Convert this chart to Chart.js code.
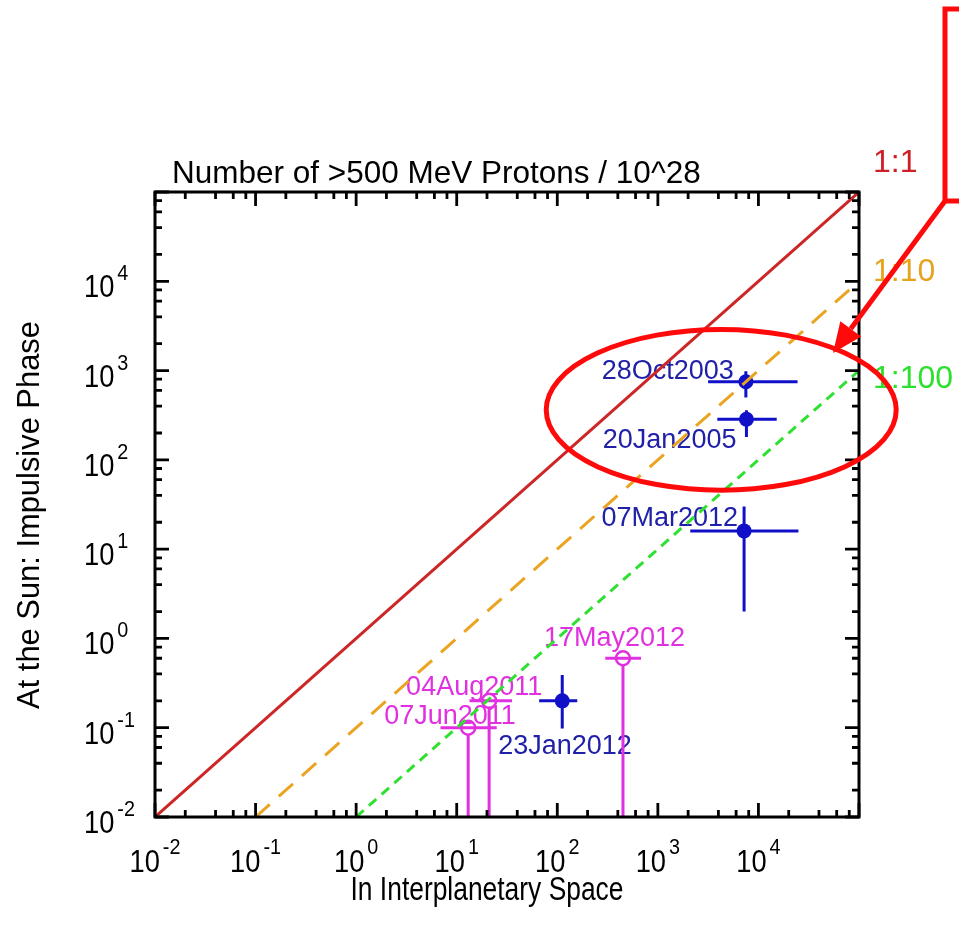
<!DOCTYPE html>
<html>
<head>
<meta charset="utf-8">
<title>Number of >500 MeV Protons</title>
<script src="https://cdn.jsdelivr.net/npm/chart.js@4.4.1/dist/chart.umd.min.js"></script>
<style>
  html, body { margin: 0; padding: 0; background: #ffffff; }
  canvas { display: block; }
</style>
</head>
<body>
<canvas id="protons" width="959" height="926"></canvas>
<script>
// Events with measured values (units of 10^28 protons above 500 MeV)
const eventNames   = ['28Oct2003', '20Jan2005', '07Mar2012', '23Jan2012'];
const ipsValues    = [7500, 7600, 7200, 112];      // in interplanetary space
const ipsLow       = [3160, 3900, 2100, 66];
const ipsHigh      = [24500, 15200, 25000, 158];
const sunValues    = [750, 285, 16, 0.2];          // at the Sun, impulsive phase
const sunLow       = [500, 180, 2, 0.098];
const sunHigh      = [980, 360, 30, 0.39];

// Events with only an upper estimate at the Sun
const limitNames   = ['07Jun2011', '04Aug2011', '17May2012'];
const limitIps     = [13, 21, 450];
const limitIpsLow  = [6.9, 13.4, 300];
const limitIpsHigh = [25, 35.5, 680];
const limitSun     = [0.1, 0.2, 0.6];

// Reference ratio lines (Sun : interplanetary)
const ratioLabels  = ['1:1', '1:10', '1:100'];
const ratioValues  = [1, 0.1, 0.01];

// Axis range and labelled decades
const axisMin = 0.01;
const axisMax = 1e5;
const tickExponents = [-2, -1, 0, 1, 2, 3, 4];
const minorMultipliers = [2, 4, 6, 8];

// ---- styles ----
const FONT = '"Liberation Sans", Arial, Helvetica, sans-serif';
const BLUE_MARK = '#1010c8';
const BLUE_TEXT = '#2020a8';
const MAGENTA = '#e030e0';
const RATIO_COLORS = ['#cc2626', '#eba421', '#30e030'];
const RATIO_TEXT_COLORS = ['#cc1f28', '#e6a41e', '#2ee02e'];
const RATIO_DASH = [[], [19, 12], [10, 7]];
const RATIO_WIDTH = [3, 3, 3];

// label placement relative to each point (pixels)
const eventLabelOffset = [[-12, -3, 'right'], [-10, 29, 'right'], [-6, -5, 'right'], [-64, 53, 'left']];
const limitLabelOffset = [[-84, -4, 'left'], [-83, -6, 'left'], [-79, -12, 'left']];

function drawText(ctx, s, x, y, size, color, align, sx) {
  ctx.save();
  ctx.font = size + 'px ' + FONT;
  ctx.fillStyle = color;
  ctx.textBaseline = 'alphabetic';
  ctx.textAlign = 'left';
  const w = ctx.measureText(s).width * sx;
  const x0 = align === 'right' ? x - w : (align === 'center' ? x - w / 2 : x);
  ctx.translate(x0, y);
  ctx.scale(sx, 1);
  ctx.fillText(s, 0, 0);
  ctx.restore();
  return w;
}

function textWidth(ctx, s, size, sx) {
  ctx.save();
  ctx.font = size + 'px ' + FONT;
  const w = ctx.measureText(s).width * sx;
  ctx.restore();
  return w;
}

// Error bars and event labels, drawn under the marks
const errorBarPlugin = {
  id: 'errorBars',
  beforeDatasetsDraw(chart) {
    const ctx = chart.ctx, xs = chart.scales.x, ys = chart.scales.y;
    ctx.save();
    ctx.lineCap = 'butt';
    ctx.lineWidth = 3;
    ctx.strokeStyle = BLUE_MARK;
    eventNames.forEach((n, i) => {
      const px = xs.getPixelForValue(ipsValues[i]);
      const py = ys.getPixelForValue(sunValues[i]);
      ctx.beginPath();
      ctx.moveTo(xs.getPixelForValue(ipsLow[i]), py);
      ctx.lineTo(xs.getPixelForValue(ipsHigh[i]), py);
      ctx.moveTo(px, ys.getPixelForValue(sunLow[i]));
      ctx.lineTo(px, ys.getPixelForValue(sunHigh[i]));
      ctx.stroke();
      const o = eventLabelOffset[i];
      drawText(ctx, n, px + o[0], py + o[1], 27, BLUE_TEXT, o[2], 1);
    });
    ctx.strokeStyle = MAGENTA;
    limitNames.forEach((n, i) => {
      const px = xs.getPixelForValue(limitIps[i]);
      const py = ys.getPixelForValue(limitSun[i]);
      ctx.beginPath();
      ctx.moveTo(xs.getPixelForValue(limitIpsLow[i]), py);
      ctx.lineTo(xs.getPixelForValue(limitIpsHigh[i]), py);
      ctx.moveTo(px, py + 7);
      ctx.lineTo(px, ys.getPixelForValue(axisMin));
      ctx.stroke();
      const o = limitLabelOffset[i];
      drawText(ctx, n, px + o[0], py + o[1], 27, MAGENTA, o[2], 1);
    });
    ctx.restore();
  }
};

// Framed axes with inward ticks and power-of-ten labels
const framePlugin = {
  id: 'frame',
  afterDatasetsDraw(chart) {
    const ctx = chart.ctx, xs = chart.scales.x, ys = chart.scales.y;
    const a = chart.chartArea;
    ctx.save();
    ctx.strokeStyle = '#000';
    ctx.lineWidth = 2.8;
    ctx.lineCap = 'butt';
    ctx.beginPath();
    for (let e = -2; e <= 5; e++) {
      const v = Math.pow(10, e);
      const px = xs.getPixelForValue(v), py = ys.getPixelForValue(v);
      const L = 14;
      ctx.moveTo(px, a.bottom); ctx.lineTo(px, a.bottom - L);
      ctx.moveTo(px, a.top); ctx.lineTo(px, a.top + L);
      ctx.moveTo(a.left, py); ctx.lineTo(a.left + L, py);
      ctx.moveTo(a.right, py); ctx.lineTo(a.right - L, py);
      if (e < 5) {
        minorMultipliers.forEach(m => {
          const mx = xs.getPixelForValue(m * v), my = ys.getPixelForValue(m * v);
          const l = 7;
          ctx.moveTo(mx, a.bottom); ctx.lineTo(mx, a.bottom - l);
          ctx.moveTo(mx, a.top); ctx.lineTo(mx, a.top + l);
          ctx.moveTo(a.left, my); ctx.lineTo(a.left + l, my);
          ctx.moveTo(a.right, my); ctx.lineTo(a.right - l, my);
        });
      }
    }
    ctx.stroke();
    ctx.lineWidth = 3;
    ctx.strokeRect(a.left, a.top, a.right - a.left, a.bottom - a.top);

    const base = 31, sup = 22.5, sx = 0.88;
    tickExponents.forEach(e => {
      const v = Math.pow(10, e);
      const ex = String(e);
      // x axis label centred under its tick
      const px = xs.getPixelForValue(v);
      const w1 = textWidth(ctx, '10', base, sx), w2 = textWidth(ctx, ex, sup, sx);
      const x0 = px - (w1 + 3 + w2) / 2;
      drawText(ctx, '10', x0, a.bottom + 55, base, '#000', 'left', sx);
      drawText(ctx, ex, x0 + w1 + 3, a.bottom + 37, sup, '#000', 'left', sx);
      // y axis label
      const py = ys.getPixelForValue(v);
      drawText(ctx, '10', 84, py + 16, base, '#000', 'left', sx);
      drawText(ctx, ex, 84 + w1 + 3, py - 1, sup, '#000', 'left', sx);
    });

    // titles
    drawText(ctx, 'Number of >500 MeV Protons / 10^28', 172, 183, 31.5, '#000', 'left', 1.0);
    drawText(ctx, 'In Interplanetary Space', 487, 900, 33, '#000', 'center', 0.8);
    ctx.save();
    ctx.translate(39, 515);
    ctx.rotate(-Math.PI / 2);
    drawText(ctx, 'At the Sun: Impulsive Phase', 0, 0, 31.5, '#000', 'center', 0.98);
    ctx.restore();
    ctx.restore();
  },
  afterDraw(chart) {
    const ctx = chart.ctx, xs = chart.scales.x, ys = chart.scales.y;
    const a = chart.chartArea;
    // ratio labels next to the right end of each line
    const yOff = [-20, 0, 17];
    ratioLabels.forEach((lab, i) => {
      const py = ys.getPixelForValue(axisMax * ratioValues[i]);
      drawText(ctx, lab, a.right + 14, py + yOff[i], 32, RATIO_TEXT_COLORS[i], 'left', 1);
    });

    // highlight around the two large events
    ctx.save();
    ctx.strokeStyle = '#ff0a0a';
    ctx.lineWidth = 5;
    const cx = xs.getPixelForValue(Math.pow(10, 3.63));
    const cy = ys.getPixelForValue(Math.pow(10, 2.56));
    const rx = xs.getPixelForValue(Math.pow(10, 3.63 + 1.74)) - cx;
    const ry = cy - ys.getPixelForValue(Math.pow(10, 2.56 + 0.9));
    ctx.beginPath();
    ctx.ellipse(cx, cy, rx, ry, 0, 0, Math.PI * 2);
    ctx.stroke();

    // callout box and arrow
    ctx.lineWidth = 5;
    ctx.beginPath();
    ctx.moveTo(975, 9);
    ctx.lineTo(945, 9);
    ctx.lineTo(945, 201);
    ctx.lineTo(975, 201);
    ctx.stroke();
    const tx = 833, ty = 353, sx0 = 945, sy0 = 201;
    const ang = Math.atan2(ty - sy0, tx - sx0);
    const hl = 30, hw = 13;
    const bx = tx - hl * Math.cos(ang), by = ty - hl * Math.sin(ang);
    ctx.beginPath();
    ctx.moveTo(sx0, sy0);
    ctx.lineTo(bx, by);
    ctx.stroke();
    ctx.fillStyle = '#ff0a0a';
    ctx.beginPath();
    ctx.moveTo(tx, ty);
    ctx.lineTo(bx + hw * Math.sin(ang), by - hw * Math.cos(ang));
    ctx.lineTo(bx - hw * Math.sin(ang), by + hw * Math.cos(ang));
    ctx.closePath();
    ctx.fill();
    ctx.restore();
  }
};

const ratioDatasets = ratioValues.map((r, i) => ({
  label: ratioLabels[i],
  type: 'line',
  data: [{ x: axisMin / r, y: axisMin }, { x: axisMax, y: axisMax * r }],
  borderColor: RATIO_COLORS[i],
  borderWidth: RATIO_WIDTH[i],
  borderDash: RATIO_DASH[i],
  pointRadius: 0,
  fill: false,
  tension: 0
}));

const chart = new Chart(document.getElementById('protons'), {
  type: 'scatter',
  data: {
    datasets: [
      ...ratioDatasets,
      {
        label: 'events',
        data: ipsValues.map((x, i) => ({ x, y: sunValues[i] })),
        pointRadius: 7.5,
        pointBackgroundColor: BLUE_MARK,
        pointBorderColor: BLUE_MARK,
        pointBorderWidth: 0
      },
      {
        label: 'upper limits',
        data: limitIps.map((x, i) => ({ x, y: limitSun[i] })),
        pointRadius: 7,
        pointBackgroundColor: 'rgba(0,0,0,0)',
        pointBorderColor: MAGENTA,
        pointBorderWidth: 2.5
      }
    ]
  },
  options: {
    responsive: false,
    animation: false,
    devicePixelRatio: 1,
    layout: { padding: { left: 155, right: 100, top: 192, bottom: 109 } },
    plugins: { legend: { display: false }, tooltip: { enabled: false } },
    scales: {
      x: { type: 'logarithmic', min: axisMin, max: axisMax, display: false },
      y: { type: 'logarithmic', min: axisMin, max: axisMax, display: false }
    }
  },
  plugins: [errorBarPlugin, framePlugin]
});
</script>
</body>
</html>
